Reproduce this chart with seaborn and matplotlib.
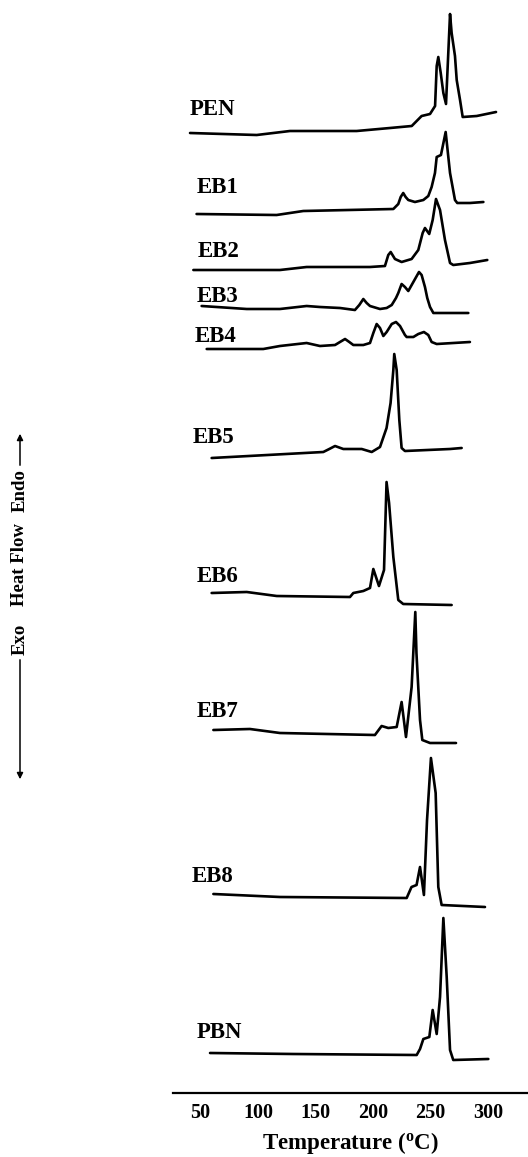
import matplotlib
matplotlib.use("Agg")
import matplotlib.pyplot as plt
import seaborn as sns
import pandas as pd

# ---------------- data (temperature in °C, heat flow in a.u., endo up) ----------------
samples = ["PEN", "EB1", "EB2", "EB3", "EB4", "EB5", "EB6", "EB7", "EB8", "PBN"]
offsets = [960, 879, 823, 787, 744, 635, 500, 363, 199, 40]

pen_T = [40.9, 98.9, 127.8, 185.8, 214.8, 233.7, 242.3, 249.6, 254.0, 255.4, 256.8, 258.9,
         261.2, 263.5, 267.0, 268.4, 271.3, 272.8, 275.7, 278.0, 290.2, 307.0]
pen_H = [0, -2, 2, 2, 5, 7, 17, 19, 27, 67, 76, 60, 40, 29, 119, 100, 77, 53, 33, 16, 17, 21]

eb1_T = [46.6, 116.2, 139.4, 217.7, 222.0, 224.1, 226.3, 228.4, 230.7, 236.5, 243.8, 248.1,
         251.0, 253.9, 255.4, 259.1, 263.2, 267.0, 271.3, 273.3, 284.3, 296.0]
eb1_H = [0, -1, 3, 5, 10, 17, 21, 17, 14, 12, 14, 18, 27, 41, 57, 59, 82, 41, 14, 11, 11, 12]

eb2_T = [43.8, 119.1, 142.3, 197.4, 210.4, 213.3, 215.4, 219.1, 224.9, 233.6, 239.4, 243.2,
         245.2, 248.9, 251.9, 254.8, 258.3, 262.6, 267.0, 269.8, 284.3, 299.4]
eb2_H = [0, 0, 3, 3, 4, 15, 18, 11, 8, 11, 20, 37, 42, 36, 50, 71, 60, 30, 7, 5, 7, 10]

eb3_T = [51.0, 90.2, 119.1, 142.3, 153.9, 171.3, 184.3, 188.1, 191.6, 194.5, 197.4, 206.1,
         211.9, 216.3, 220.0, 222.0, 224.9, 227.8, 230.7, 235.1, 240.0, 242.3, 245.2, 247.2,
         249.6, 252.5, 282.9]
eb3_H = [0, -3, -3, 0, -1, -2, -4, 1, 7, 3, 0, -3, -2, 1, 8, 13, 22, 19, 15, 24, 34, 31,
         19, 8, -1, -7, -7]

eb4_T = [55.4, 104.6, 119.1, 142.3, 153.9, 167.0, 171.3, 175.7, 179.4, 182.9, 191.6, 197.4,
         200.3, 203.2, 206.1, 209.0, 211.9, 216.3, 220.0, 223.5, 227.8, 229.3, 235.1, 239.4,
         244.3, 248.1, 251.0, 255.4, 284.3]
eb4_H = [0, 0, 3, 6, 3, 4, 7, 10, 7, 4, 4, 6, 16, 25, 21, 13, 17, 25, 27, 23, 14, 12, 12,
         15, 17, 14, 7, 5, 7]

eb5_T = [59.7, 156.8, 162.0, 167.0, 174.2, 190.2, 198.9, 206.1, 211.8, 215.3, 217.7, 218.5,
         220.6, 222.9, 224.9, 227.8, 267.0, 277.1]
eb5_H = [0, 6, 9, 12, 9, 9, 6, 11, 30, 55, 88, 104, 88, 38, 10, 7, 9, 10]

eb6_T = [59.7, 90.2, 116.3, 180.0, 182.9, 191.6, 197.4, 200.3, 205.2, 209.6, 211.8, 214.0,
         217.7, 222.0, 226.3, 268.4]
eb6_H = [0, 1, -3, -4, 0, 2, 5, 24, 7, 23, 111, 90, 36, -7, -11, -12]

eb7_T = [61.2, 93.0, 119.1, 201.7, 207.5, 213.3, 220.6, 224.9, 228.7, 233.6, 236.8, 237.8,
         240.9, 242.9, 249.6, 272.2]
eb7_H = [0, 1, -3, -5, 4, 2, 3, 28, -7, 43, 118, 77, 10, -10, -13, -13]

eb8_T = [61.2, 119.1, 229.3, 233.5, 237.9, 240.9, 244.3, 247.0, 250.4, 254.5, 256.8, 259.7,
         297.4]
eb8_H = [0, -3, -4, 7, 9, 27, -1, 74, 136, 101, 7, -11, -13]

pbn_T = [58.3, 130.7, 238.0, 240.9, 243.8, 249.0, 251.9, 255.4, 258.3, 261.2, 264.1, 267.0,
         269.8, 300.3]
pbn_H = [0, -1, -2, 4, 14, 16, 43, 19, 56, 135, 76, 3, -7, -6]

temps = [pen_T, eb1_T, eb2_T, eb3_T, eb4_T, eb5_T, eb6_T, eb7_T, eb8_T, pbn_T]
flows = [pen_H, eb1_H, eb2_H, eb3_H, eb4_H, eb5_H, eb6_H, eb7_H, eb8_H, pbn_H]

x_ticks = [50, 100, 150, 200, 250, 300]

# label anchor (left x in °C, baseline y in plot units)
label_x = [40.9, 47, 47.8, 47, 45.2, 43.5, 47, 47, 42.6, 47]
label_y = [978, 900, 836, 791, 751, 650, 511, 376, 211, 55]

# ---------------- style ----------------
sns.set_theme(style="white")
plt.rcParams["font.family"] = ["Liberation Serif", "DejaVu Serif"]
plt.rcParams["mathtext.fontset"] = "custom"
plt.rcParams["mathtext.rm"] = "Liberation Serif"
plt.rcParams["mathtext.bf"] = "Liberation Serif:bold"

rows = []
for name, off, T, H in zip(samples, offsets, temps, flows):
    for t, h in zip(T, H):
        rows.append({"sample": name, "T": t, "y": off + h})
df = pd.DataFrame(rows)

fig = plt.figure(figsize=(5.28, 11.57), dpi=100)
ax = fig.add_axes([173 / 528, 64 / 1157, 1 - 173 / 528, 1093 / 1157])

for name in samples:
    sub = df[df["sample"] == name]
    sns.lineplot(data=sub, x="T", y="y", ax=ax, color="black", linewidth=1.9,
                 estimator=None, sort=False, legend=False,
                 solid_joinstyle="round", solid_capstyle="round")

for name, lx, ly in zip(samples, label_x, label_y):
    ax.text(lx, ly, name, ha="left", va="baseline", fontsize=16.5, fontweight="bold",
            color="black")

ax.set_xlim(26.1, 334.8)
ax.set_ylim(0, 1093)
ax.set_xticks(x_ticks)
ax.set_xticklabels([str(v) for v in x_ticks], fontsize=14.5, fontweight="bold")
ax.set_yticks([])
ax.tick_params(axis="x", length=0, pad=7.5, colors="black")
for s in ["top", "right", "left"]:
    ax.spines[s].set_visible(False)
ax.spines["bottom"].set_color("black")
ax.spines["bottom"].set_linewidth(1.6)
ax.set_xlabel(r"Temperature ($\mathbf{^{o}}$C)", fontsize=16.5, fontweight="bold",
              labelpad=5, color="black")
ax.set_ylabel("")

# y-axis annotation: Exo  Heat Flow  Endo with arrows
xf = 20 / 528
for txt, yc in [("Endo", 491), ("Heat Flow", 565), ("Exo", 639)]:
    fig.text(xf, 1 - yc / 1157, txt, rotation=90, ha="center", va="center",
             fontsize=13.5, fontweight="bold", color="black")
arrow_kw = dict(arrowstyle="-|>", color="black", lw=1.1, mutation_scale=9)
fig.add_artist(matplotlib.patches.FancyArrowPatch((xf, 1 - 468 / 1157), (xf, 1 - 431 / 1157),
                                                  transform=fig.transFigure, **arrow_kw))
fig.add_artist(matplotlib.patches.FancyArrowPatch((xf, 1 - 657 / 1157), (xf, 1 - 782 / 1157),
                                                  transform=fig.transFigure, **arrow_kw))

fig.savefig("out.png", dpi=100, facecolor="white")
